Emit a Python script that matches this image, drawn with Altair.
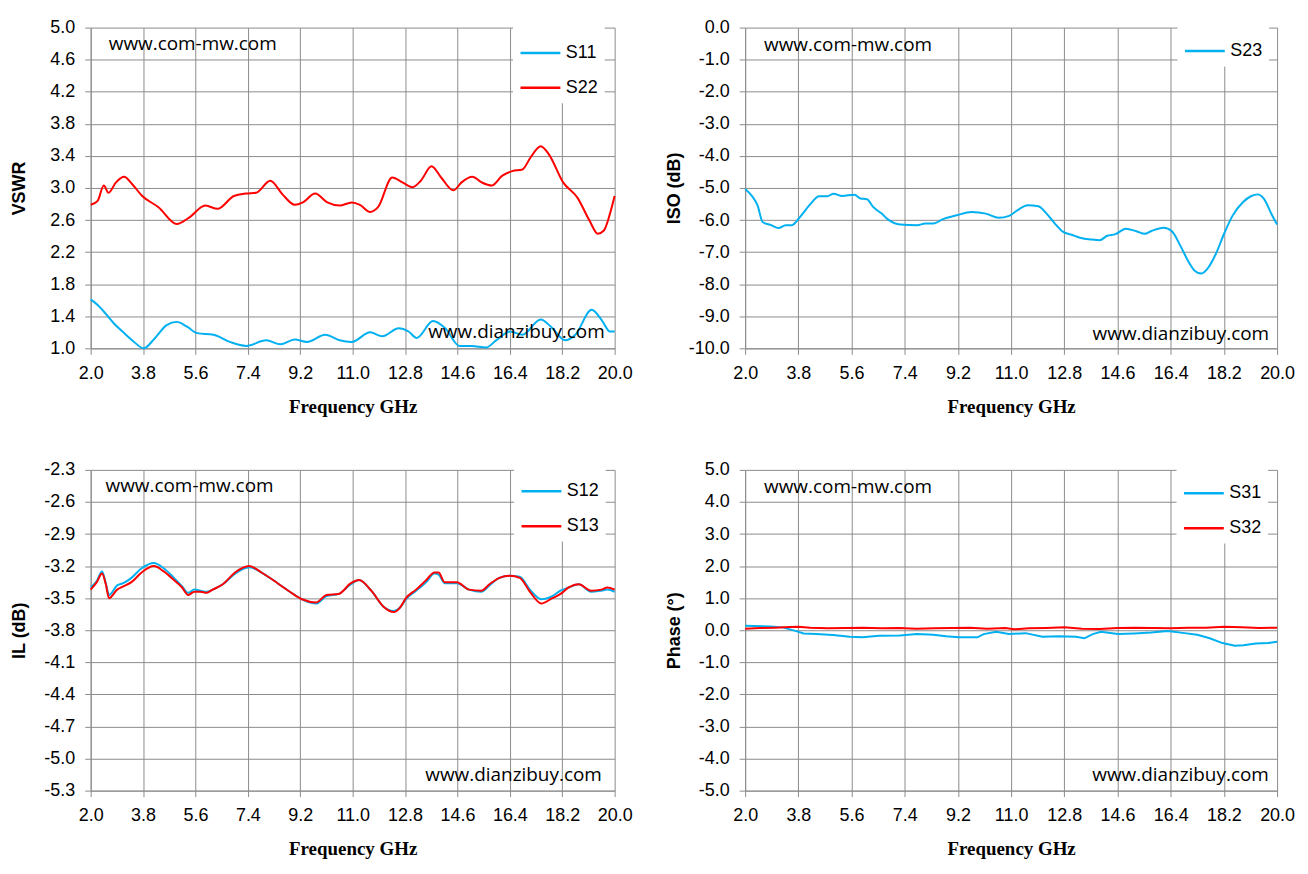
import altair as alt
import pandas as pd

BLUE = "#00B0F0"
RED = "#FF0000"
GRID = "#8C8C8C"
LABEL_FONT = "Liberation Sans"

freq_ticks = [2.0, 3.8, 5.6, 7.4, 9.2, 11.0, 12.8, 14.6, 16.4, 18.2, 20.0]

# VSWR panel
s22_freq = [2.0, 2.24, 2.45, 2.61, 2.87, 3.15, 3.42, 3.77, 4.33, 4.96, 5.38, 5.94, 6.36,
            6.92, 7.34, 7.68, 8.17, 8.59, 9.01, 9.29, 9.71, 10.13, 10.55, 10.97, 11.25,
            11.6, 11.87, 12.36, 12.71, 13.06, 13.34, 13.71, 14.04, 14.46, 14.74, 15.11,
            15.43, 15.78, 16.13, 16.48, 16.83, 17.11, 17.46, 17.74, 18.23, 18.72, 19.14,
            19.42, 19.63, 19.84, 20.0]
s22_vswr = [2.79, 2.84, 3.03, 2.94, 3.07, 3.14, 3.05, 2.90, 2.76, 2.55, 2.63, 2.78, 2.74,
            2.90, 2.93, 2.94, 3.09, 2.92, 2.79, 2.82, 2.93, 2.82, 2.78, 2.82, 2.79,
            2.70, 2.76, 3.13, 3.07, 3.01, 3.09, 3.27, 3.13, 2.97, 3.07, 3.14,
            3.07, 3.03, 3.15, 3.21, 3.23, 3.38, 3.52, 3.42, 3.07, 2.88, 2.59,
            2.43, 2.47, 2.68, 2.90]
s11_freq = [2.0, 2.24, 2.52, 2.8, 3.15, 3.49, 3.82, 4.19, 4.61, 4.96, 5.31, 5.66, 6.22,
            6.78, 7.34, 8.03, 8.52, 9.01, 9.43, 10.06, 10.55, 10.97, 11.6, 12.02, 12.58,
            12.92, 13.2, 13.76, 14.18, 14.67, 15.09, 15.58, 15.93, 16.41, 16.83, 17.46,
            17.81, 18.3, 18.65, 19.21, 19.56, 19.84, 20.0]
s11_vswr = [1.61, 1.54, 1.43, 1.31, 1.19, 1.08, 1.00, 1.12, 1.29, 1.33, 1.27, 1.19, 1.17,
            1.08, 1.03, 1.10, 1.05, 1.11, 1.08, 1.17, 1.10, 1.08, 1.20, 1.15, 1.25,
            1.21, 1.13, 1.34, 1.25, 1.03, 1.03, 1.01, 1.10, 1.21, 1.17, 1.36,
            1.27, 1.10, 1.17, 1.48, 1.35, 1.21, 1.21]

# Isolation panel
s23_freq = [2.0, 2.24, 2.42, 2.59, 2.88, 3.13, 3.37, 3.58, 3.86, 4.22, 4.5, 4.78, 4.99,
            5.28, 5.7, 5.91, 6.12, 6.33, 6.62, 6.83, 7.25, 7.82, 8.1, 8.38, 8.67, 9.16,
            9.66, 10.15, 10.58, 10.93, 11.21, 11.56, 11.92, 12.2, 12.48, 12.76, 13.05,
            13.33, 13.75, 14.0, 14.25, 14.53, 14.88, 15.24, 15.52, 15.73, 16.16, 16.44,
            16.72, 17.01, 17.22, 17.43, 17.64, 17.93, 18.21, 18.49, 18.85, 19.13, 19.34,
            19.55, 19.83, 20.0]
s23_iso = [-5.03, -5.26, -5.54, -6.06, -6.16, -6.25, -6.16, -6.16, -5.90, -5.49, -5.26,
           -5.26, -5.18, -5.25, -5.21, -5.33, -5.35, -5.59, -5.80, -5.98, -6.14, -6.16,
           -6.11, -6.11, -5.98, -5.85, -5.75, -5.80, -5.93, -5.87, -5.70, -5.54, -5.57,
           -5.80, -6.11, -6.37, -6.46, -6.55, -6.61, -6.63, -6.49, -6.44, -6.27, -6.35,
           -6.43, -6.35, -6.24, -6.35, -6.79, -7.31, -7.59, -7.67, -7.52, -7.05, -6.42,
           -5.87, -5.44, -5.25, -5.20, -5.33, -5.85, -6.14]

# Insertion loss panel
il_freq = [2.0, 2.21, 2.39, 2.52, 2.63, 2.91, 3.12, 3.4, 3.75, 4.17, 4.51, 4.86, 5.14,
           5.35, 5.56, 5.77, 5.98, 6.19, 6.54, 6.96, 7.45, 7.87, 8.42, 8.84, 9.26, 9.75,
           10.1, 10.52, 10.94, 11.22, 11.64, 12.06, 12.41, 12.62, 12.83, 13.18, 13.53,
           13.81, 13.95, 14.16, 14.58, 15.0, 15.42, 15.7, 16.04, 16.39, 16.74, 17.09,
           17.48, 17.86, 18.14, 18.42, 18.77, 19.19, 19.54, 19.75, 20.0]
s12_il = [-3.40, -3.34, -3.25, -3.36, -3.47, -3.38, -3.36, -3.31, -3.22, -3.17, -3.22,
          -3.31, -3.39, -3.45, -3.42, -3.43, -3.44, -3.42, -3.37, -3.27, -3.21, -3.26,
          -3.36, -3.44, -3.51, -3.55, -3.48, -3.46, -3.37, -3.33, -3.43, -3.58, -3.62,
          -3.59, -3.51, -3.43, -3.35, -3.27, -3.28, -3.36, -3.36, -3.42, -3.44, -3.38,
          -3.31, -3.29, -3.30, -3.42, -3.51, -3.48, -3.43, -3.40, -3.37, -3.44, -3.43,
          -3.42, -3.44]
s13_il = [-3.42, -3.35, -3.27, -3.37, -3.50, -3.42, -3.39, -3.35, -3.26, -3.20, -3.25,
          -3.33, -3.40, -3.47, -3.44, -3.44, -3.45, -3.42, -3.37, -3.26, -3.20, -3.26,
          -3.36, -3.44, -3.51, -3.54, -3.47, -3.46, -3.36, -3.33, -3.43, -3.58, -3.63,
          -3.59, -3.50, -3.42, -3.33, -3.26, -3.26, -3.35, -3.35, -3.42, -3.43, -3.37,
          -3.31, -3.29, -3.31, -3.44, -3.55, -3.50, -3.46, -3.40, -3.37, -3.43, -3.42,
          -3.40, -3.42]

# Phase panel
s31_freq = [2.0, 2.28, 2.85, 3.27, 3.7, 3.98, 4.41, 4.97, 5.54, 5.97, 6.53, 7.24, 7.81,
            8.37, 8.8, 9.22, 9.86, 10.07, 10.5, 10.92, 11.49, 12.06, 12.62, 13.19, 13.48,
            13.76, 14.04, 14.61, 15.17, 15.74, 16.3, 16.87, 17.3, 17.72, 18.15, 18.57,
            18.86, 19.28, 19.7, 20.0]
s31_phase = [0.14, 0.13, 0.12, 0.09, -0.02, -0.10, -0.12, -0.15, -0.20, -0.22, -0.17,
             -0.16, -0.12, -0.14, -0.19, -0.22, -0.22, -0.12, -0.05, -0.12, -0.09, -0.20,
             -0.19, -0.20, -0.25, -0.12, -0.05, -0.12, -0.10, -0.07, -0.02, -0.09, -0.14,
             -0.25, -0.40, -0.48, -0.47, -0.41, -0.40, -0.36]
s32_freq = [2.0, 2.5, 3.0, 3.5, 3.8, 4.2, 4.8, 5.4, 6.0, 6.6, 7.2, 7.8, 8.4, 9.0, 9.6,
            10.2, 10.8, 11.1, 11.6, 12.2, 12.8, 13.4, 14.0, 14.6, 15.2, 15.8, 16.4, 17.0,
            17.6, 18.2, 18.8, 19.4, 20.0]
s32_phase = [0.05, 0.07, 0.08, 0.10, 0.11, 0.08, 0.06, 0.07, 0.08, 0.06, 0.07, 0.05,
             0.06, 0.07, 0.08, 0.05, 0.07, 0.03, 0.06, 0.07, 0.09, 0.05, 0.04, 0.07,
             0.08, 0.07, 0.06, 0.08, 0.08, 0.11, 0.09, 0.07, 0.08]

marks_top = "www.com-mw.com"
marks_bottom = "www.dianzibuy.com"

# ASCII hyphen instead of the unicode minus d3-format puts in
HYPHEN = "replace(datum.label, '\u2212', '-')"


def panel(series, y_title, y_domain, y_ticks, width, legend_xy, top_mark, bottom_mark,
          interp="monotone"):
    names = [s[0] for s in series]
    colors = [s[1] for s in series]
    df = pd.concat([pd.DataFrame({"freq": s[2], "value": s[3], "series": s[0]})
                    for s in series])

    x = alt.X("freq:Q", scale=alt.Scale(domain=[2, 20], nice=False, zero=False),
              axis=alt.Axis(values=freq_ticks, format=".1f", title="Frequency GHz"))
    y = alt.Y("value:Q", scale=alt.Scale(domain=y_domain, nice=False, zero=False),
              axis=alt.Axis(values=y_ticks, format=".1f", title=y_title,
                            labelExpr=HYPHEN))

    lines = alt.Chart(df).mark_line(strokeWidth=2, interpolate=interp).encode(
        x=x, y=y,
        color=alt.Color("series:N", scale=alt.Scale(domain=names, range=colors),
                        legend=alt.Legend(orient="none", legendX=legend_xy[0],
                                          legendY=legend_xy[1], title=None,
                                          symbolType="stroke", symbolSize=1600,
                                          symbolStrokeWidth=2.5, labelFont=LABEL_FONT,
                                          labelFontSize=18, labelColor="black",
                                          labelOffset=4, fillColor="white",
                                          padding=6, rowPadding=4)),
    )

    wm = pd.DataFrame({"freq": [top_mark[0]], "value": [top_mark[1]], "t": [marks_top]})
    wm_top = alt.Chart(wm).mark_text(
        align="left", baseline="middle", font="Open Sans", fontSize=19, color="black"
    ).encode(x=x, y=y, text="t:N")
    wm2 = pd.DataFrame({"freq": [bottom_mark[0]], "value": [bottom_mark[1]],
                        "t": [marks_bottom]})
    wm_bot = alt.Chart(wm2).mark_text(
        align="right", baseline="middle", font="Open Sans", fontSize=19, color="black"
    ).encode(x=x, y=y, text="t:N")

    return alt.layer(lines, wm_top, wm_bot).properties(width=width, height=322)


vswr = panel([("S11", BLUE, s11_freq, s11_vswr), ("S22", RED, s22_freq, s22_vswr)],
             "VSWR", [1.0, 5.0], [1.0 + 0.4 * i for i in range(11)], 526, (424, -2),
             (2.62, 4.80), (19.66, 1.20))
iso = panel([("S23", BLUE, s23_freq, s23_iso)],
            "ISO (dB)", [-10.0, 0.0], [float(-i) for i in range(11)], 534, (434, -4),
            (2.64, -0.53), (19.73, -9.56))
il = panel([("S12", BLUE, il_freq, s12_il), ("S13", RED, il_freq, s13_il)],
           "IL (dB)", [-5.3, -2.3], [-2.3 - 0.3 * i for i in range(11)], 526, (425, -6),
           (2.51, -2.45), (19.56, -5.15))
phase = panel([("S31", BLUE, s31_freq, s31_phase), ("S32", RED, s32_freq, s32_phase)],
              "Phase (°)", [-5.0, 5.0], [5.0 - i for i in range(11)], 534, (433, -4),
              (2.64, 4.47), (19.72, -4.5), interp="linear")

chart = alt.concat(vswr, iso, il, phase, columns=2).properties(
    bounds="flush",
    spacing={"row": 122, "column": 131},
    padding={"left": 3, "top": 9, "right": 5, "bottom": 5},
).resolve_scale(color="independent").configure_view(stroke=None).configure_axis(
    labelFont=LABEL_FONT, labelFontSize=18, labelColor="black",
    gridColor=GRID, gridWidth=1, domainColor=GRID, tickColor=GRID, tickSize=6,
    titleColor="black", labelOverlap=False, labelFlush=False,
).configure_axisX(
    labelPadding=10, titleFont="Liberation Serif", titleFontSize=19,
    titleFontWeight="bold", titlePadding=15,
).configure_axisY(
    labelPadding=10, titleFont="Liberation Sans", titleFontSize=18,
    titleFontWeight="bold", titlePadding=14, minExtent=48, maxExtent=48,
)

chart.save("out.html", embed_options={"renderer": "svg", "actions": False})
